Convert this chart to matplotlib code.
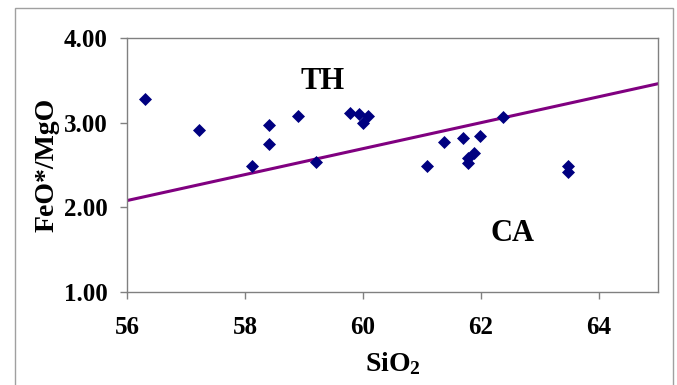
#
# FeO*/MgO vs SiO2 discrimination plot (TH / CA)
#

import matplotlib
matplotlib.use('Agg')
import matplotlib.pyplot as plt
from matplotlib.patches import Rectangle


# data
sio2 = [56.30, 57.22, 58.12, 58.40, 58.40, 58.90, 59.21, 59.78, 59.93,
        60.00, 60.09, 61.09, 61.38, 61.70, 61.78, 61.78, 61.88, 61.99,
        62.37, 63.48, 63.48]
feo_mgo = [3.28, 2.91, 2.49, 2.97, 2.75, 3.08, 2.53, 3.11, 3.10,
           3.00, 3.08, 2.49, 2.77, 2.82, 2.58, 2.52, 2.64, 2.84,
           3.07, 2.49, 2.42]

# TH / CA dividing line
lineX = [56.0, 65.0]
lineY = [2.08, 3.46]

xTicks = [56, 58, 60, 62, 64]
yTicks = [1.0, 2.0, 3.0, 4.0]

# parameters
W, H = 677, 385
serif = 'Liberation Serif'

plt.rcParams['mathtext.fontset'] = 'custom'
plt.rcParams['mathtext.rm'] = 'Liberation Serif:bold'
plt.rcParams['mathtext.it'] = 'Liberation Serif:bold'
plt.rcParams['mathtext.bf'] = 'Liberation Serif:bold'


fig = plt.figure(figsize=[W/100, H/100], dpi=100, facecolor='w')
ax = fig.add_axes([127/W, 1-292/H, (658-127)/W, (292-38)/H])

# outer chart frame (bottom edge falls off the picture)
fig.patches.append(Rectangle((15/W, -0.02), (673-15)/W, 1.02-8/H,
                             transform=fig.transFigure, fill=False,
                             edgecolor='#a0a0a0', linewidth=1))

ax.plot(lineX, lineY, '-', color='#800080', linewidth=2.2, zorder=2)
ax.scatter(sio2, feo_mgo, marker='D', s=44, color='#000080', zorder=3,
           linewidths=0)

ax.text(59.32, 3.49, 'TH', fontsize=22, fontweight='bold', family=serif,
        ha='center', va='center')
ax.text(62.54, 1.69, 'CA', fontsize=22, fontweight='bold', family=serif,
        ha='center', va='center')

ax.set_xlim(56, 65)
ax.set_ylim(1, 4)
ax.set_xticks(xTicks)
ax.set_yticks(yTicks)
ax.set_xticklabels([str(t) for t in xTicks])
ax.set_yticklabels(['%.2f' % t for t in yTicks])

for axis in ['top', 'bottom', 'left', 'right']:
    ax.spines[axis].set_color('#808080')
    ax.spines[axis].set_linewidth(1)
ax.tick_params(axis='both', direction='out', length=5, width=1,
               color='#808080', labelsize=18)
ax.tick_params(axis='x', pad=12)
ax.tick_params(axis='y', pad=9)
for lab in ax.get_xticklabels() + ax.get_yticklabels():
    lab.set_family(serif)
    lab.set_fontweight('bold')

ax.set_xlabel('SiO$_2$', fontsize=20, fontweight='bold', family=serif,
              labelpad=8)
ax.set_ylabel('FeO*/MgO', fontsize=20, fontweight='bold', family=serif,
              labelpad=3)

fig.savefig('out.png', dpi=100, facecolor='w')
